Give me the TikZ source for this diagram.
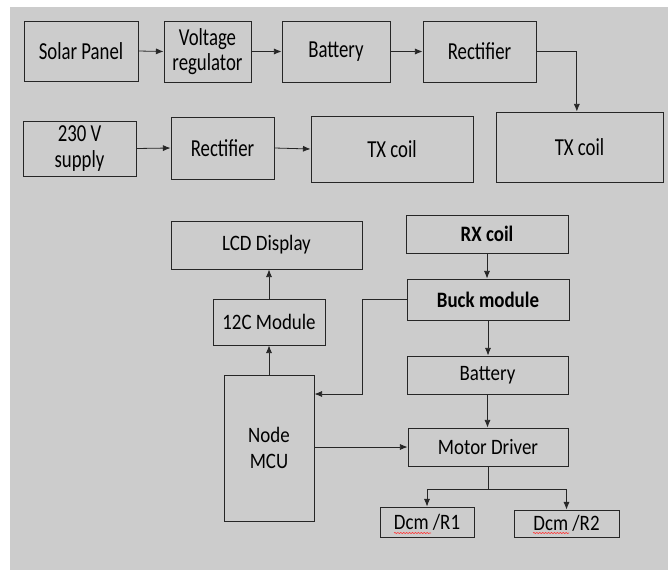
\documentclass[tikz,border=0pt]{standalone}
\usepackage{fontspec}
\setmainfont{Carlito}[FakeStretch=0.86]
\newfontfamily\narrowfont{Carlito}[FakeStretch=0.77]
\usepackage{tikz}
\usetikzlibrary{arrows.meta,decorations.pathmorphing}
\definecolor{slidegray}{HTML}{CCCCCC}
\tikzset{
  blkbox/.style = {draw=black!85, line width=0.7pt, inner sep=2pt, align=center},
  bigtxt/.style = {font=\narrowfont\fontsize{18.3}{19}\selectfont},
  smltxt/.style = {font=\fontsize{16.5}{19}\selectfont},
  boldtxt/.style = {font=\fontsize{16.5}{19}\selectfont\bfseries},
  blkar/.style  = {-{Latex[length=2mm,width=1.6mm]}, black!85, line width=0.6pt},
  wire/.style   = {black!85, line width=0.6pt},
  spell/.style  = {red!80, line width=0.45pt, decorate,
                   decoration={snake,amplitude=0.45pt,segment length=2.2pt}}
}

\begin{document}
\begin{tikzpicture}[x=0.75pt,y=-0.75pt]
  \useasboundingbox (0,0) rectangle (668,571);
  \fill[slidegray] (10,7) rectangle (668,570);
  % transmitter side
  \node[blkbox,bigtxt,minimum width=85.5pt,minimum height=45pt] (solar) at (81,51) {Solar Panel};
  \node[blkbox,bigtxt,minimum width=65.25pt,minimum height=45.75pt] (vreg) at (207.5,51.5) {Voltage\\regulator};
  \node[blkbox,bigtxt,minimum width=81pt,minimum height=45.75pt] (batt1) at (336,51.5) {Battery};
  \node[blkbox,bigtxt,minimum width=84.75pt,minimum height=45.75pt] (rect1) at (479.5,51.5) {Rectifier};
  \node[blkbox,bigtxt,minimum width=125.25pt,minimum height=52.5pt] (txR) at (579.5,147) {TX coil};
  \node[blkbox,bigtxt,minimum width=84.75pt,minimum height=41.25pt] (supply) at (79.5,148.5) {230 V\\supply};
  \node[blkbox,bigtxt,minimum width=77.25pt,minimum height=46.5pt] (rect2) at (222.5,148) {Rectifier};
  \node[blkbox,bigtxt,minimum width=121.5pt,minimum height=49.5pt] (txL) at (392,149) {TX coil};
  \draw[blkar] (solar.east) -- (vreg.west);
  \draw[blkar] (vreg.east) -- (batt1.west);
  \draw[blkar] (batt1.east) -- (rect1.west);
  \draw[blkar] (rect1.east) -| ([xshift=-2]txR.north);
  \draw[blkar] (supply.east) -- (rect2.west);
  \draw[blkar] (rect2.east) -- (txL.west);
  % receiver side
  \node[blkbox,smltxt,minimum width=143.25pt,minimum height=36pt] (lcd) at (266.5,245) {LCD Display};
  \node[blkbox,smltxt,minimum width=84pt,minimum height=34.5pt] (iic) at (269,322) {12C Module};
  \node[blkbox,smltxt,minimum width=67.5pt,minimum height=109.5pt] (mcu) at (269,448) {Node\\MCU};
  \node[blkbox,boldtxt,minimum width=121.5pt,minimum height=28.5pt] (rx) at (487,234) {RX coil};
  \node[blkbox,boldtxt,minimum width=121.5pt,minimum height=30.75pt] (buck) at (488,299.5) {Buck module};
  \node[blkbox,smltxt,minimum width=120.75pt,minimum height=28.5pt] (batt2) at (487.5,375) {Battery};
  \node[blkbox,smltxt,minimum width=120pt,minimum height=28.5pt] (motor) at (488,447) {Motor Driver};
  \node[blkbox,smltxt,minimum width=70.5pt,minimum height=22.5pt] (dcm1) at (427,522) {Dcm /R1};
  \node[blkbox,smltxt,minimum width=78.75pt,minimum height=20.25pt] (dcm2) at (566.5,523.5) {Dcm /R2};
  \coordinate (bend) at (362,394);
  \coordinate (split) at (488,489);
  \draw[blkar] (mcu.north) -- (iic.south);
  \draw[blkar] (iic.north) -- (iic.north |- lcd.south);
  \draw[blkar] (rx.south) -- (rx.south |- buck.north);
  \draw[blkar] (buck.south) -- (buck.south |- batt2.north);
  \draw[blkar] (batt2.south) -- (batt2.south |- motor.north);
  \draw[blkar] (buck.west) -| (bend) -- (bend -| mcu.east);
  \draw[blkar] (mcu.east |- motor.west) -- (motor.west);
  \draw[wire] (motor.south) -- (split);
  \draw[blkar] (split) -| (dcm1.north);
  \draw[blkar] (split) -| (dcm2.north);
  % spell-check marks
  \draw[spell] (394,533) -- (431,533);
  \draw[spell] (533,533) -- (569,533);
\end{tikzpicture}
\end{document}
